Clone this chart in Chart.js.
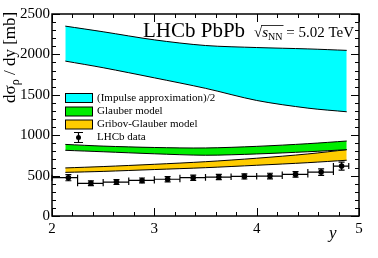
<!DOCTYPE html>
<html>
<head>
<meta charset="utf-8">
<script src="https://cdn.jsdelivr.net/npm/chart.js@4.4.1/dist/chart.umd.min.js"></script>
<style>
  html, body { margin: 0; padding: 0; background: #fff; }
</style>
</head>
<body>
<canvas id="myChart" width="378" height="258"></canvas>
<script>
const SERIF = '"Liberation Serif", "Times New Roman", serif';

// model curves, sampled along rapidity
const bandX = [2.13, 2.5, 3.0, 3.5, 4.0, 4.5, 4.88];
const impulseHi = [2350, 2280, 2180, 2110, 2085, 2068, 2050];
const impulseLo = [1917, 1835, 1710, 1580, 1430, 1335, 1290];
const glauberHi = [886, 865, 848, 842, 862, 895, 928];
const glauberLo = [813, 795, 770, 752, 768, 795, 821];
const gribovHi = [595, 612, 640, 672, 715, 768, 821];
const gribovLo = [540, 552, 575, 598, 628, 660, 690];

// LHCb data
const dataX = [2.16, 2.38, 2.63, 2.88, 3.13, 3.38, 3.63, 3.88, 4.13, 4.38, 4.63, 4.83];
const dataY = [474, 405, 420, 440, 455, 474, 482, 490, 494, 515, 544, 618];
const dataErr = [38, 30, 30, 30, 32, 32, 32, 32, 35, 35, 40, 50];
const binLo = [2.0, 2.25, 2.5, 2.75, 3.0, 3.25, 3.5, 3.75, 4.0, 4.25, 4.5, 4.75];
const binHi = [2.25, 2.5, 2.75, 3.0, 3.25, 3.5, 3.75, 4.0, 4.25, 4.5, 4.75, 4.9];

const xTicks = [2, 3, 4, 5];
const yTicks = [0, 500, 1000, 1500, 2000, 2500];

const legendItems = [
    { label: '(Impulse approximation)/2', color: '#00ffff' },
    { label: 'Glauber model', color: '#00ee00' },
    { label: 'Gribov-Glauber model', color: '#ffcc00' },
    { label: 'LHCb data', color: null }
];

function pts(xs, ys) {
    return xs.map((x, i) => ({ x: x, y: ys[i] }));
}

function band(hi, lo, color) {
    return [
        { data: pts(bandX, hi), borderColor: '#000', borderWidth: 1, pointRadius: 0, fill: false, tension: 0.3 },
        { data: pts(bandX, lo), borderColor: '#000', borderWidth: 1, pointRadius: 0, fill: '-1', backgroundColor: color, tension: 0.3 }
    ];
}

const frame = {
    id: 'frame',
    afterDraw(chart) {
        const ctx = chart.ctx;
        const a = chart.chartArea;
        const x = chart.scales.x, y = chart.scales.y;
        ctx.save();
        ctx.strokeStyle = '#000';
        ctx.lineWidth = 1;
        ctx.beginPath();
        for (let i = 0; i <= 15; i++) {
            const px = Math.round(x.getPixelForValue(2 + i * 0.2)) + 0.5;
            const len = i % 5 == 0 ? 8 : 4;
            ctx.moveTo(px, a.bottom); ctx.lineTo(px, a.bottom - len);
            ctx.moveTo(px, a.top); ctx.lineTo(px, a.top + len);
        }
        for (let i = 0; i <= 25; i++) {
            const py = Math.round(y.getPixelForValue(i * 100)) + 0.5;
            const len = i % 5 == 0 ? 8 : 4;
            ctx.moveTo(a.left, py); ctx.lineTo(a.left + len, py);
            ctx.moveTo(a.right, py); ctx.lineTo(a.right - len, py);
        }
        ctx.stroke();
        ctx.lineWidth = 1.5;
        ctx.strokeRect(a.left, a.top, a.right - a.left, a.bottom - a.top);

        // axis titles
        ctx.fillStyle = '#000';
        ctx.textBaseline = 'alphabetic';
        ctx.textAlign = 'left';
        ctx.font = 'italic 17px ' + SERIF;
        ctx.fillText('y', 329, 238);

        ctx.save();
        ctx.translate(15, 103);
        ctx.rotate(-Math.PI / 2);
        ctx.font = '17px ' + SERIF;
        ctx.fillText('dσ', 0, 0);
        let w = ctx.measureText('dσ').width;
        ctx.font = '12px ' + SERIF;
        ctx.fillText('ρ', w, 4);
        w += ctx.measureText('ρ').width;
        ctx.font = '17px ' + SERIF;
        ctx.fillText(' / dy [mb]', w, 0);
        ctx.restore();

        // header
        ctx.font = '21px ' + SERIF;
        ctx.fillText('LHCb PbPb', 143, 37);
        let tx = 254;
        ctx.font = '15px ' + SERIF;
        ctx.fillText('√', tx, 37);
        tx += ctx.measureText('√').width;
        const ox = tx;
        ctx.font = 'italic 15px ' + SERIF;
        ctx.fillText('s', tx, 37);
        tx += ctx.measureText('s').width;
        ctx.font = '10px ' + SERIF;
        ctx.fillText('NN', tx, 40);
        tx += ctx.measureText('NN').width;
        ctx.lineWidth = 0.8;
        ctx.beginPath();
        ctx.moveTo(ox - 1, 25.5); ctx.lineTo(tx + 1, 25.5);
        ctx.stroke();
        ctx.font = '15px ' + SERIF;
        ctx.fillText(' = 5.02 TeV', tx, 37);

        // legend
        ctx.font = '11px ' + SERIF;
        ctx.textBaseline = 'middle';
        const rows = [98, 111.5, 124.5, 137.5];
        legendItems.forEach((it, i) => {
            const cy = rows[i];
            if (it.color) {
                ctx.fillStyle = it.color;
                ctx.fillRect(65, cy - 4.5, 27, 9);
                ctx.strokeStyle = '#000';
                ctx.lineWidth = 1;
                ctx.strokeRect(65.5, cy - 4.5, 27, 9);
            } else {
                ctx.strokeStyle = '#000';
                ctx.lineWidth = 1.2;
                ctx.beginPath();
                ctx.moveTo(78.5, cy - 5); ctx.lineTo(78.5, cy + 5);
                ctx.moveTo(74, cy - 5); ctx.lineTo(83, cy - 5);
                ctx.moveTo(74, cy + 5); ctx.lineTo(83, cy + 5);
                ctx.stroke();
                ctx.fillStyle = '#000';
                ctx.beginPath();
                ctx.arc(78.5, cy, 2.5, 0, Math.PI * 2);
                ctx.fill();
            }
            ctx.fillStyle = '#000';
            ctx.fillText(it.label, 97, cy);
        });
        ctx.restore();
    }
};

const errorBars = {
    id: 'errorBars',
    afterDatasetsDraw(chart) {
        const ctx = chart.ctx;
        const x = chart.scales.x, y = chart.scales.y;
        ctx.save();
        ctx.strokeStyle = '#000';
        ctx.lineWidth = 1.2;
        ctx.beginPath();
        dataX.forEach((v, i) => {
            const px = x.getPixelForValue(v);
            const py = y.getPixelForValue(dataY[i]);
            const x0 = x.getPixelForValue(binLo[i]);
            const x1 = x.getPixelForValue(binHi[i]);
            const y0 = y.getPixelForValue(dataY[i] - dataErr[i]);
            const y1 = y.getPixelForValue(dataY[i] + dataErr[i]);
            ctx.moveTo(x0, py); ctx.lineTo(x1, py);
            ctx.moveTo(x0, py - 3); ctx.lineTo(x0, py + 3);
            ctx.moveTo(x1, py - 3); ctx.lineTo(x1, py + 3);
            ctx.moveTo(px, y0); ctx.lineTo(px, y1);
            ctx.moveTo(px - 3, y0); ctx.lineTo(px + 3, y0);
            ctx.moveTo(px - 3, y1); ctx.lineTo(px + 3, y1);
        });
        ctx.stroke();
        ctx.restore();
    }
};

const ctx = document.getElementById('myChart');

new Chart(ctx, {
    type: 'line',
    data: {
        datasets: [
            ...band(impulseHi, impulseLo, '#00ffff'),
            ...band(glauberHi, glauberLo, '#00ee00'),
            ...band(gribovHi, gribovLo, '#ffcc00'),
            {
                data: pts(dataX, dataY),
                showLine: false,
                pointRadius: 2.8,
                pointBackgroundColor: '#000',
                pointBorderColor: '#000',
                borderWidth: 0
            }
        ]
    },
    options: {
        responsive: false,
        animation: false,
        layout: { padding: { left: 0, top: 14, right: 19, bottom: 0 } },
        plugins: {
            legend: { display: false },
            tooltip: { enabled: false }
        },
        scales: {
            x: {
                type: 'linear',
                min: 2,
                max: 5,
                afterBuildTicks: (s) => { s.ticks = xTicks.map(v => ({ value: v })); },
                afterFit: (s) => { s.height = 42; },
                grid: { display: false, drawTicks: false },
                border: { display: false },
                ticks: { color: '#000', padding: 4, maxRotation: 0, callback: (v) => String(v), font: { family: SERIF, size: 15 } }
            },
            y: {
                min: 0,
                max: 2500,
                afterBuildTicks: (s) => { s.ticks = yTicks.map(v => ({ value: v })); },
                afterFit: (s) => { s.width = 52; },
                grid: { display: false, drawTicks: false },
                border: { display: false },
                ticks: { color: '#000', padding: 2, callback: (v) => String(v), font: { family: SERIF, size: 15 } }
            }
        }
    },
    plugins: [errorBars, frame]
});
</script>
</body>
</html>
